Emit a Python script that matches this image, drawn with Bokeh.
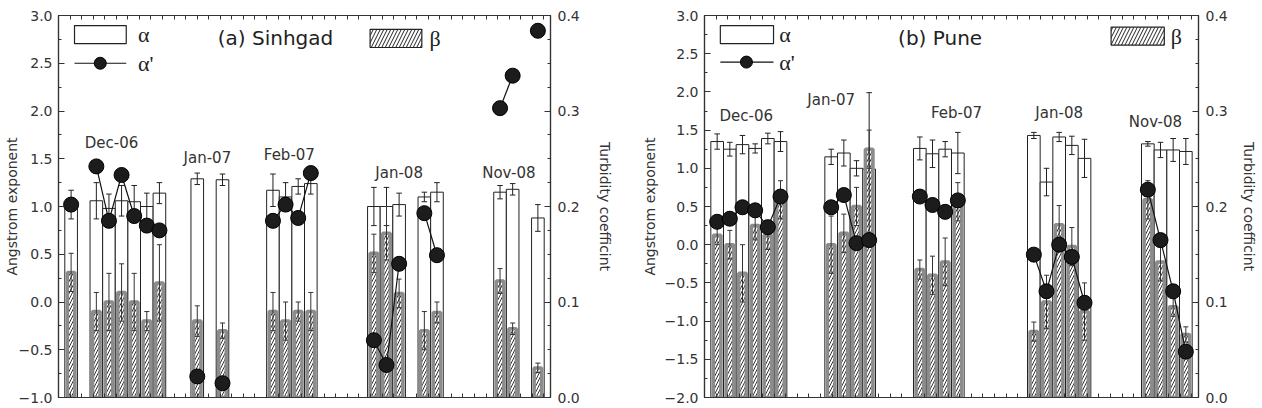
import numpy as np
from bokeh.plotting import figure
from bokeh.models import (Range1d, LinearAxis, FixedTicker, CustomJSTickFormatter,
                          ColumnDataSource, Label)
from bokeh.layouts import row
from bokeh.embed import file_html
from bokeh.resources import INLINE
from bokeh.core.properties import value

# ---------------- data: (a) Sinhgad ----------------
days_a = [1, 3, 4, 5, 6, 7, 8, 11, 13, 17, 18, 19, 20, 25, 26, 27, 29, 30, 35, 36, 38]
alpha_a = [1.02, 1.06, 0.98, 1.06, 1.05, 1.00, 1.14, 1.29, 1.28, 1.17, 1.10, 1.21, 1.24,
           1.00, 1.00, 1.02, 1.10, 1.15, 1.15, 1.18, 0.88]
alpha_err_a = [0.15, 0.19, 0.15, 0.16, 0.17, 0.14, 0.11, 0.06, 0.06, 0.17, 0.15, 0.08, 0.11,
               0.20, 0.20, 0.12, 0.05, 0.10, 0.07, 0.06, 0.14]
beta_a = [0.131, 0.090, 0.100, 0.110, 0.100, 0.080, 0.120, 0.080, 0.070, 0.090, 0.080, 0.090, 0.090,
          0.151, 0.172, 0.109, 0.070, 0.089, 0.122, 0.072, 0.031]
beta_err_a = [0.020, 0.020, 0.030, 0.030, 0.030, 0.010, 0.040, 0.016, 0.008, 0.020, 0.020, 0.010, 0.020,
              0.020, 0.028, 0.015, 0.020, 0.011, 0.013, 0.006, 0.005]
alpha_p_a = [1.02, 1.42, 0.85, 1.33, 0.90, 0.80, 0.75, -0.78, -0.85, 0.85, 1.02, 0.88, 1.35,
             -0.40, -0.66, 0.40, 0.93, 0.49, 2.03, 2.37, 2.84]

# ---------------- data: (b) Pune ----------------
days_b = [1, 2, 3, 4, 5, 6, 10, 11, 12, 13, 17, 18, 19, 20, 26, 27, 28, 29, 30, 35, 36, 37, 38]
alpha_b = [1.35, 1.25, 1.31, 1.26, 1.39, 1.35, 1.15, 1.20, 1.00, 0.99, 1.26, 1.19, 1.25, 1.20,
           1.43, 0.82, 1.41, 1.30, 1.13, 1.32, 1.24, 1.24, 1.22]
alpha_err_b = [0.10, 0.09, 0.12, 0.06, 0.07, 0.13, 0.10, 0.17, 0.10, 1.00, 0.15, 0.18, 0.10, 0.27,
               0.04, 0.18, 0.06, 0.12, 0.25, 0.03, 0.10, 0.15, 0.17]
beta_b = [0.170, 0.160, 0.130, 0.180, 0.170, 0.207, 0.160, 0.172, 0.200, 0.260, 0.134, 0.128, 0.142, 0.205,
          0.069, 0.100, 0.181, 0.158, 0.090, 0.207, 0.142, 0.095, 0.066]
beta_err_b = [0.010, 0.015, 0.030, 0.015, 0.015, 0.020, 0.030, 0.020, 0.020, 0.020, 0.010, 0.020, 0.025, 0.020,
              0.010, 0.028, 0.020, 0.020, 0.030, 0.020, 0.020, 0.010, 0.008]
alpha_p_b = [0.30, 0.34, 0.49, 0.45, 0.23, 0.63, 0.49, 0.65, 0.02, 0.06, 0.63, 0.52, 0.43, 0.58,
             -0.13, -0.61, 0.00, -0.16, -0.76, 0.72, 0.06, -0.61, -1.40]

months = ["Dec-06", "Jan-07", "Feb-07", "Jan-08", "Nov-08"]

# label placements (layout only)
month_pos_a = ([4.2, 11.8, 18.3, 27.0, 35.7], [1.66, 1.51, 1.54, 1.35, 1.35])
month_pos_b = ([3.3, 10.0, 19.9, 28.0, 35.6], [1.68, 1.90, 1.73, 1.72, 1.60])

FONT = "DejaVu Sans"
AX = "#333333"

fmt = CustomJSTickFormatter(code="""
const v = Math.abs(tick) < 1e-9 ? 0 : tick;
return (v < 0 ? "\u2212" : "") + Math.abs(v).toFixed(1);
""")


def runs(days, vals):
    xs, ys = [[days[0]]], [[vals[0]]]
    for d0, d, v in zip(days[:-1], days[1:], vals[1:]):
        if d - d0 == 1:
            xs[-1].append(d)
            ys[-1].append(v)
        else:
            xs.append([d])
            ys.append([v])
    return xs, ys


def style_y(ax, ticks, minor, label, standoff, label_standoff):
    ax.ticker = FixedTicker(ticks=ticks, minor_ticks=minor)
    ax.formatter = fmt
    ax.axis_label = label
    ax.axis_label_text_font = FONT
    ax.axis_label_text_font_style = "normal"
    ax.axis_label_text_font_size = "14px"
    ax.axis_label_text_color = AX
    ax.axis_label_standoff = label_standoff
    ax.major_label_text_font = FONT
    ax.major_label_text_font_size = "14px"
    ax.major_label_text_color = AX
    ax.major_label_standoff = standoff
    ax.major_tick_in = 6
    ax.major_tick_out = 0
    ax.minor_tick_in = 3
    ax.minor_tick_out = 0
    ax.major_tick_line_color = AX
    ax.minor_tick_line_color = AX
    ax.axis_line_color = AX
    ax.axis_line_width = 1.2


def style_x(ax, minor):
    ax.ticker = FixedTicker(ticks=[], minor_ticks=minor)
    ax.major_label_text_font_size = "0px"
    ax.major_label_standoff = 0
    ax.axis_label_standoff = 0
    ax.minor_tick_in = 4
    ax.minor_tick_out = 0
    ax.major_tick_in = 0
    ax.major_tick_out = 0
    ax.minor_tick_line_color = AX
    ax.axis_line_color = AX
    ax.axis_line_width = 1.2


def panel(days, alpha, aerr, beta, berr, ap, ymin, month_pos, title, title_x, title_y,
          width, bl, br, leg, left_std, right_std, day_label=False):
    p = figure(width=width, height=408, output_backend="svg", toolbar_location=None,
               x_range=Range1d(0, 39), y_range=Range1d(ymin, 3.0),
               min_border_left=bl, min_border_right=br, min_border_top=15, min_border_bottom=11,
               background_fill_color="white", border_fill_color="white")
    p.extra_y_ranges = {"beta": Range1d(0, 0.4)}
    p.grid.visible = False
    p.outline_line_color = AX
    p.outline_line_width = 1.2

    minor_x = list(np.arange(0, 39.01, 0.916))
    style_x(p.xaxis[0], minor_x)
    top = LinearAxis()
    style_x(top, minor_x)
    p.add_layout(top, "above")

    yt = list(np.arange(ymin, 3.01, 0.5))
    ym = list(np.arange(ymin, 3.01, 0.25))
    style_y(p.yaxis[0], yt, ym, "Angstrom exponent", 6, left_std)
    rax = LinearAxis(y_range_name="beta")
    style_y(rax, [0.0, 0.1, 0.2, 0.3, 0.4], list(np.arange(0, 0.401, 0.025)),
            "Turbidity coefficint", 7, right_std)
    p.add_layout(rax, "right")

    d = np.array(days, dtype=float)
    a = np.array(alpha)
    ae = np.array(aerr)
    b = np.array(beta)
    be = np.array(berr)

    # alpha bars
    p.vbar(x=d, top=a, bottom=ymin, width=1.0, fill_color="white", line_color="#222222",
           line_width=1)
    # beta bars (hatched)
    p.vbar(x=d, top=b, bottom=0, width=0.6, y_range_name="beta", fill_color="white",
           line_color="#8c8c8c", line_width=3.5, hatch_pattern="/", hatch_color="#333333",
           hatch_scale=6, hatch_weight=1)
    # alpha error bars
    p.segment(x0=d, y0=a - ae, x1=d, y1=a + ae, line_color="#222222", line_width=1)
    p.segment(x0=d - 0.22, y0=a + ae, x1=d + 0.22, y1=a + ae, line_color="#222222", line_width=1)
    p.segment(x0=d - 0.22, y0=a - ae, x1=d + 0.22, y1=a - ae, line_color="#222222", line_width=1)
    # beta error bars
    p.segment(x0=d, y0=b - be, x1=d, y1=b + be, y_range_name="beta", line_color="#333333",
              line_width=1)
    p.segment(x0=d - 0.2, y0=b + be, x1=d + 0.2, y1=b + be, y_range_name="beta",
              line_color="#333333", line_width=1)
    p.segment(x0=d - 0.2, y0=b - be, x1=d + 0.2, y1=b - be, y_range_name="beta",
              line_color="#333333", line_width=1)
    # alpha' lines and spheres
    xs, ys = runs(days, ap)
    p.multi_line(xs=xs, ys=ys, line_color="#111111", line_width=1.2)
    p.scatter(x=d, y=ap, marker="circle", size=15, fill_color="#1c1c1c", line_color="#000000")

    # month labels
    src = ColumnDataSource(dict(x=month_pos[0], y=month_pos[1], t=months))
    p.text(x="x", y="y", text="t", source=src, text_font=value(FONT), text_font_size="15px",
           text_align="center", text_baseline="middle", text_color=AX)

    # title
    p.add_layout(Label(x=title_x, y=title_y, text=title, text_font=FONT, text_font_size="20px",
                       text_align="center", text_baseline="middle", text_color="#222222"))

    # legend
    (ax_c, ay_c, aw, ah, atx, lpy, lsx, bx_c, by_c, btx) = leg
    p.rect(x=[ax_c], y=[ay_c], width=aw, height=ah, fill_color="white", line_color="#222222",
           line_width=1.2)
    p.add_layout(Label(x=atx, y=ay_c, text="\u03b1", text_font="Liberation Serif",
                       text_font_size="22px", text_baseline="middle", text_color="#222222"))
    p.line(x=[ax_c - aw / 2, ax_c + aw / 2], y=[lpy, lpy], line_color="#111111", line_width=1.2)
    p.scatter(x=[lsx], y=[lpy], marker="circle", size=12, fill_color="#1c1c1c", line_color="black")
    p.add_layout(Label(x=atx, y=lpy, text="\u03b1'", text_font="Liberation Serif",
                       text_font_size="22px", text_baseline="middle", text_color="#222222"))
    p.rect(x=[bx_c], y=[by_c], width=aw, height=ah, fill_color="white", line_color="#222222",
           line_width=1.2, hatch_pattern="/", hatch_color="#222222", hatch_scale=7, hatch_weight=1)
    p.add_layout(Label(x=btx, y=by_c, text="\u03b2", text_font="Liberation Serif",
                       text_font_size="22px", text_baseline="middle", text_color="#222222"))

    if day_label:
        p.add_layout(Label(x=19.5, y=ymin, y_offset=-1, text="Day", text_font=FONT,
                           text_font_size="9px", text_align="center", text_baseline="top",
                           text_color=AX))
    return p


leg_a = (3.32, 2.80, 4.1, 0.19, 6.3, 2.50, 3.31, 26.75, 2.76, 29.4)
leg_b = (3.35, 2.75, 4.2, 0.235, 5.9, 2.39, 3.31, 34.2, 2.73, 36.8)

p1 = panel(days_a, alpha_a, alpha_err_a, beta_a, beta_err_a, alpha_p_a, -1.0, month_pos_a,
           "(a) Sinhgad", 17.2, 2.76, 630, 55, 80, leg_a, -4, 14)
p2 = panel(days_b, alpha_b, alpha_err_b, beta_b, beta_err_b, alpha_p_b, -2.0, month_pos_b,
           "(b) Pune", 18.6, 2.71, 632, 74, 64, leg_b, 4, 10, day_label=True)

layout = row(p1, p2)
open("out.html", "w", encoding="utf-8").write(file_html(layout, INLINE))
